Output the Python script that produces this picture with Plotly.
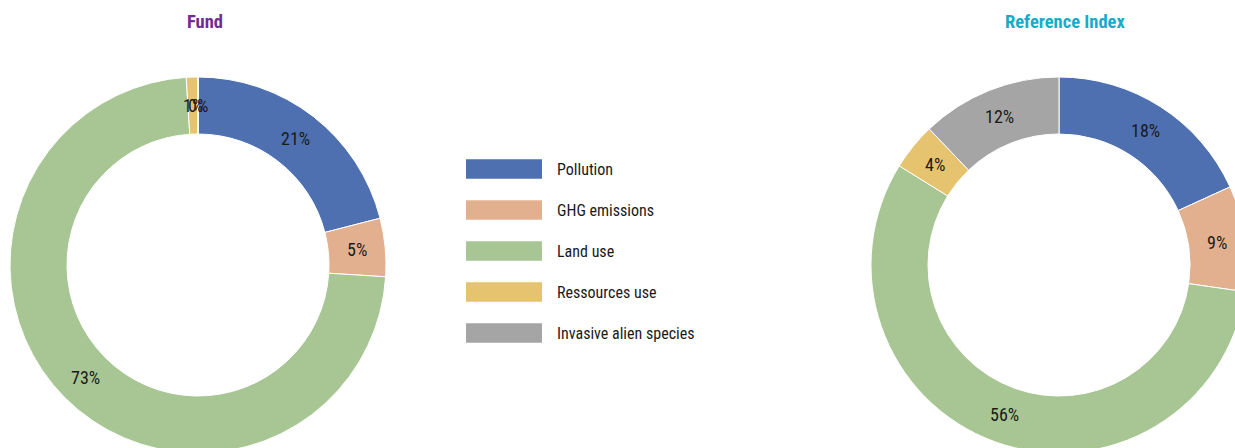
import math
import plotly.graph_objects as go

# ---------------- data ----------------
categories = ["Pollution", "GHG emissions", "Land use", "Ressources use", "Invasive alien species"]
fund_values = [21, 5, 73, 1, 0]
index_values = [18, 9, 56, 4, 12]
colors = ["#4E70B0", "#E3B08F", "#A8C594", "#E6C36E", "#A5A5A5"]
legend_key = [1, 1, 1, 1, 1]
titles = ["Fund", "Reference Index"]
title_colors = ["#702C8F", "#17ABC8"]

# ---------------- geometry (pixels, screen coords) ----------------
W, H = 1250, 455
OFF = 0  # page body margin removed below
R = 188
HOLE = 131 / 188
RM = (R + R * HOLE) / 2
FONT = "Roboto Condensed, Liberation Sans Narrow, Roboto, sans-serif"


def px(x):
    return (x - OFF) / W


def py(y):
    return 1 - (y - OFF) / H


def domain(cx, cy):
    return dict(x=[px(cx - R), px(cx + R)], y=[py(cy + R), py(cy - R)])


def slice_labels(values, cx, cy):
    total = sum(values)
    cum = 0
    anns = []
    for v in values:
        mid = (cum + v / 2) / total
        cum += v
        th = 2 * math.pi * mid
        x = cx + RM * math.sin(th)
        y = cy - RM * math.cos(th)
        anns.append(dict(x=px(x), y=py(y), xref="paper", yref="paper",
                         xanchor="center", yanchor="middle",
                         text=f"{v}%", showarrow=False,
                         font=dict(family=FONT, size=18, color="#1A1A1A")))
    return anns


centers = [(198, 265), (1059, 265)]
fig = go.Figure()
for vals, (cx, cy) in zip([fund_values, index_values], centers):
    fig.add_trace(go.Pie(
        values=vals, labels=categories, sort=False, direction="clockwise", rotation=0,
        hole=HOLE, textinfo="none", showlegend=False,
        marker=dict(colors=colors, line=dict(color="white", width=1)),
        domain=domain(cx, cy),
    ))

# legend key drawn as a small bar chart
fig.add_trace(go.Bar(
    x=legend_key, y=categories, orientation="h", marker=dict(color=colors, line=dict(width=0)),
    showlegend=False, hoverinfo="y", xaxis="x", yaxis="y",
))

annotations = []
annotations += slice_labels(fund_values, *centers[0])
annotations += slice_labels(index_values, *centers[1])
for t, c, xpx in zip(titles, title_colors, [205, 1065]):
    annotations.append(dict(x=px(xpx), y=py(22), xref="paper", yref="paper", text=f"<b>{t}</b>",
                            xanchor="center", yanchor="middle",
                            showarrow=False, font=dict(family=FONT, size=18.5, color=c)))

fig.update_layout(
    width=W, height=H, margin=dict(l=0, r=0, t=0, b=0),
    paper_bgcolor="white", plot_bgcolor="white",
    bargap=1 - 19.5 / 41,
    xaxis=dict(domain=[px(466), px(542)], range=[0, 1], visible=False, fixedrange=True),
    yaxis=dict(domain=[py(353.5), py(148.5)], autorange="reversed", side="right", anchor="x",
               showgrid=False, zeroline=False, showline=False, ticks="", ticklabelstandoff=14,
               tickfont=dict(family=FONT, size=16, color="#1A1A1A"), fixedrange=True),
    annotations=annotations,
    font=dict(family=FONT),
)

fig.write_html("out.html",
               config={"displayModeBar": False},
               post_script="document.body.style.margin='0';document.body.style.overflow='hidden';")
